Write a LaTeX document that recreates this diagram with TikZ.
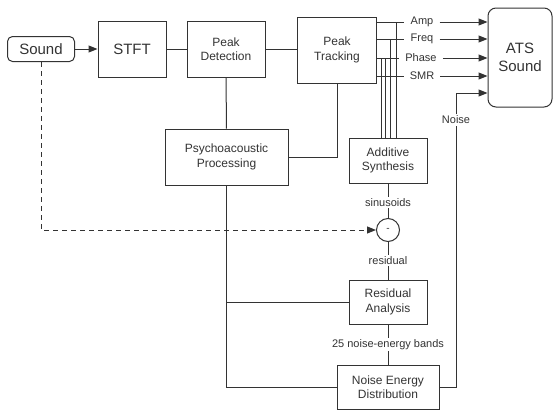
\documentclass[tikz,border=0pt]{standalone}
\usepackage{fontspec}
\setmainfont{Liberation Sans}
\usetikzlibrary{arrows.meta,calc}

\begin{document}
\begin{tikzpicture}[x=1pt,y=-1pt,
  blk/.style={draw=black!80,line width=1pt,align=center,inner sep=0pt,text=black!80,font=\fontsize{12}{14.5}\selectfont},
  big/.style={font=\fontsize{15}{18}\selectfont},
  lbl/.style={fill=white,inner sep=1.5pt,text=black!80,font=\fontsize{11}{13}\selectfont},
  outlbl/.style={lbl,inner xsep=6pt},
  ln/.style={draw=black!80,line width=1pt},
  arr/.style={ln,-{Triangle[length=9pt,width=7pt]}}]
\useasboundingbox (0,0) rectangle (554,410);
%% top row
\node[blk,big,rounded corners=5pt,minimum width=67pt,minimum height=25pt] (snd) at (41,49) {Sound};
\node[blk,big,minimum width=68pt,minimum height=56pt] (stft) at (132,49) {STFT};
\node[blk,minimum width=78pt,minimum height=56pt] (det) at (226,49) {Peak\\Detection};
\node[blk,minimum width=79pt,minimum height=66pt] (trk) at (337,50) {Peak\\Tracking};
\node[blk,big,rounded corners=8pt,minimum width=64pt,minimum height=99pt] (ats) at (520,57.5) {ATS\\Sound};
%% lower blocks
\node[blk,minimum width=123pt,minimum height=56pt] (psy) at (226.5,157) {Psychoacoustic\\Processing};
\node[blk,minimum width=78pt,minimum height=45pt] (syn) at (388,160.5) {Additive\\Synthesis};
\node[draw=black!80,line width=1pt,circle,minimum size=23pt,inner sep=0pt,text=black!80] (sub) at (388,230) {-};
\node[blk,minimum width=78pt,minimum height=44pt] (res) at (388,302) {Residual\\Analysis};
\node[blk,minimum width=102pt,minimum height=44pt] (ned) at (388,387) {Noise Energy\\Distribution};
%% output labels
\node[outlbl] (amp) at (422,22) {Amp};
\node[outlbl] (frq) at (422,39) {Freq};
\node[outlbl] (pha) at (421,58) {Phase};
\node[outlbl] (smr) at (422,76) {SMR};
\node[lbl] (noi) at (456,120) {Noise};
\coordinate (v1) at (381,0);
\coordinate (v2) at (385,0);
\coordinate (v3) at (390,0);
\coordinate (v4) at (396,0);

\draw[arr] (snd) -- (stft);
\draw[ln] (stft) -- (det);
\draw[ln] (det.east) -- (det.east -| trk.west);
\draw[ln] (det) -- (psy);
\draw[ln] (trk.south) |- (psy.east);
\foreach \p in {amp,frq,pha,smr}{
  \draw[ln] (trk.east |- \p) -- (\p.west);
  \draw[arr] (\p.east) -- (\p -| ats.west);
}
\draw[ln] (v4 |- amp) -- (v4 |- syn.north);
\draw[ln] (v3 |- frq) -- (v3 |- syn.north);
\draw[ln] (v2 |- pha) -- (v2 |- syn.north);
\draw[ln] (v1 |- pha) -- (v1 |- syn.north);
%% residual path
\draw[arr,dash pattern=on 5pt off 4pt] (snd.south) |- (sub.west);
\draw[ln] (syn) -- node[lbl,pos=0.55] {sinusoids} (sub);
\draw[ln] (sub) -- node[lbl] {residual} (res);
\draw[ln] (res) -- node[lbl] {25 noise-energy bands} (ned);
\draw[ln] (psy.south) |- (ned.west);
\draw[ln] (psy.south |- res.west) -- (res.west);
\draw[ln] (ned.east) -| (noi.south);
\draw[arr] (noi.north) |- ($(ats.west)+(0,35.5)$);
\end{tikzpicture}
\end{document}
